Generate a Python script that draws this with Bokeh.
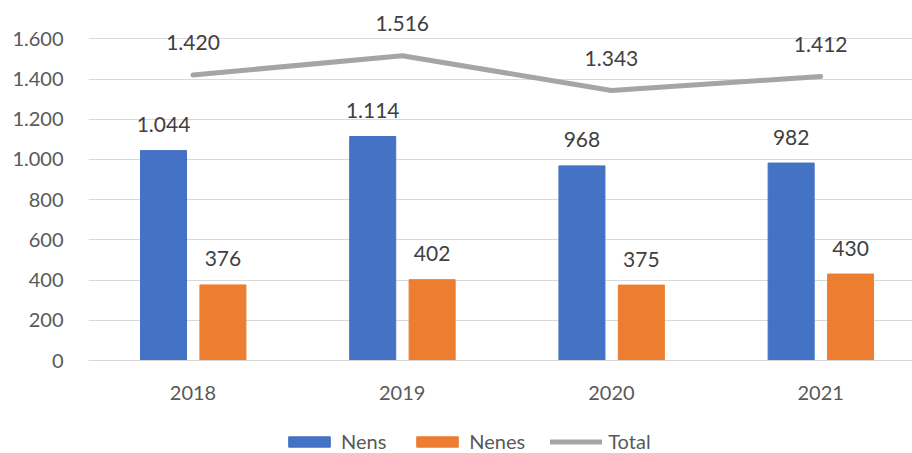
from bokeh.plotting import figure
from bokeh.models import (ColumnDataSource, Range1d, FixedTicker, Legend, LegendItem,
                          LabelSet)
from bokeh.core.properties import value
from bokeh.transform import dodge
from bokeh.embed import file_html
from bokeh.resources import INLINE

years = ["2018", "2019", "2020", "2021"]
nens = [1044, 1114, 968, 982]
nenes = [376, 402, 375, 430]
total = [1420, 1516, 1343, 1412]
y_ticks = [0, 200, 400, 600, 800, 1000, 1200, 1400, 1600]


def fmt(v):
    return f"{v:,}".replace(",", ".")


FONT = "Lato"
BLUE = "#4472C4"
ORANGE = "#ED7D31"
GRAY = "#A5A5A5"

src = ColumnDataSource(dict(
    x=list(range(len(years))),
    nens=nens, nenes=nenes, total=total,
    nens_lbl=[fmt(v) for v in nens],
    nenes_lbl=[fmt(v) for v in nenes],
    total_lbl=[fmt(v) for v in total],
))

# frame fills the whole canvas height; value axis 0..1600 sits inside it
p = figure(width=912, height=453, output_backend="svg", toolbar_location=None,
           x_range=Range1d(-0.4995, 3.439), y_range=Range1d(-462.5, 1790.5),
           min_border_left=88, min_border_right=0, min_border_top=0,
           min_border_bottom=0)
p.outline_line_color = None
p.background_fill_color = "white"
p.border_fill_color = "white"

# gridlines
p.xgrid.grid_line_color = None
p.ygrid.ticker = FixedTicker(ticks=y_ticks)
p.ygrid.grid_line_color = "#D9D9D9"
p.ygrid.grid_line_width = 1

# axes
p.yaxis.ticker = FixedTicker(ticks=y_ticks)
p.yaxis.major_label_overrides = {t: fmt(t) for t in y_ticks}
p.yaxis.axis_line_color = None
p.yaxis.major_tick_line_color = None
p.yaxis.minor_tick_line_color = None
p.yaxis.major_label_standoff = 19
p.yaxis.major_label_text_font = FONT
p.yaxis.major_label_text_font_size = "20px"
p.yaxis.major_label_text_color = "#595959"

p.xaxis.fixed_location = 0
p.xaxis.ticker = FixedTicker(ticks=list(range(len(years))))
p.xaxis.major_label_overrides = {i: y for i, y in enumerate(years)}
p.xaxis.axis_line_color = "#D9D9D9"
p.xaxis.major_tick_line_color = None
p.xaxis.minor_tick_line_color = None
p.xaxis.major_label_standoff = 19
p.xaxis.major_label_text_font = FONT
p.xaxis.major_label_text_font_size = "20px"
p.xaxis.major_label_text_color = "#595959"

bw = 0.22
r_nens = p.vbar(x=dodge("x", -0.141, range=p.x_range), top="nens", width=bw,
                source=src, fill_color=BLUE, line_color=BLUE)
r_nenes = p.vbar(x=dodge("x", 0.143, range=p.x_range), top="nenes", width=bw,
                 source=src, fill_color=ORANGE, line_color=ORANGE)
r_total = p.line(x="x", y="total", source=src, line_color=GRAY, line_width=5,
                 line_cap="round", line_join="round")

common = dict(source=src, text_font=value(FONT), text_font_size="21px",
              text_color="#404040", text_align="center", text_baseline="middle")
p.add_layout(LabelSet(x=dodge("x", -0.141, range=p.x_range), y="nens", text="nens_lbl",
                      y_offset=26, **common))
p.add_layout(LabelSet(x=dodge("x", 0.143, range=p.x_range), y="nenes", text="nenes_lbl",
                      y_offset=26, **common))
p.add_layout(LabelSet(x="x", y="total", text="total_lbl",
                      y_offset=32, **common))

legend = Legend(items=[
    LegendItem(label="Nens", renderers=[r_nens]),
    LegendItem(label="Nenes", renderers=[r_nenes]),
    LegendItem(label="Total", renderers=[r_total]),
], orientation="horizontal", location=(195, 0))
legend.padding = 0
legend.margin = 0
legend.spacing = 25
legend.glyph_width = 52
legend.glyph_height = 13
legend.label_standoff = 6
legend.label_height = 20
legend.label_text_font = FONT
legend.label_text_font_size = "20px"
legend.label_text_color = "#595959"
legend.border_line_color = None
legend.background_fill_alpha = 0
p.add_layout(legend, "center")

open("out.html", "w").write(file_html(p, INLINE))
